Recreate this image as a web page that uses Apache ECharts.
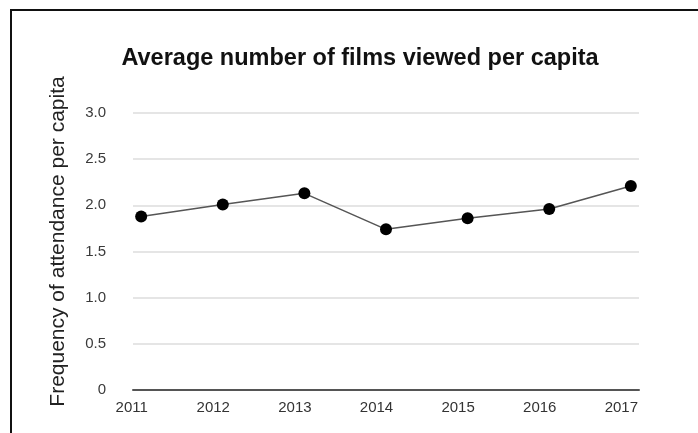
<!DOCTYPE html>
<html>
<head>
<meta charset="utf-8">
<script src="https://cdn.jsdelivr.net/npm/echarts@6/dist/echarts.min.js"></script>
<style>
  html, body { margin: 0; padding: 0; background: #fff; }
  #chart { width: 698px; height: 433px; }
</style>
</head>
<body>
<div id="chart"></div>
<script>
// Average films viewed per capita, by year
const years = [2011, 2012, 2013, 2014, 2015, 2016, 2017];
const filmsPerCapita = [1.88, 2.01, 2.13, 1.74, 1.86, 1.96, 2.21];
const yTicks = [0, 0.5, 1.0, 1.5, 2.0, 2.5, 3.0];

const titleText = 'Average number of films viewed per capita';
const yAxisTitle = 'Frequency of attendance per capita';

const FONT = '"Liberation Sans", Arial, Helvetica, sans-serif';

const chart = echarts.init(document.getElementById('chart'), null, { renderer: 'canvas' });

chart.setOption({
  backgroundColor: '#ffffff',
  animation: false,
  title: {
    text: titleText,
    left: 355,
    top: 42,
    textAlign: 'center',
    textStyle: { fontFamily: FONT, fontSize: 23.5, fontWeight: 'bold', color: '#111' }
  },
  graphic: [{
    type: 'rect',
    shape: { x: 11, y: 10, width: 800, height: 800 },
    style: { fill: 'none', stroke: '#111', lineWidth: 2 },
    silent: true
  }],
  grid: { left: 133, right: 59, top: 113, bottom: 43, containLabel: false },
  xAxis: {
    type: 'value',
    min: years[0] - 0.1,
    max: years[years.length - 1] + 0.1,
    axisLine: { show: true, lineStyle: { color: '#555', width: 2 } },
    axisTick: { show: false },
    splitLine: { show: false },
    axisLabel: {
      customValues: years,
      formatter: v => String(v),
      margin: 10,
      padding: [0, 19, 0, 0],
      fontFamily: FONT, fontSize: 15, color: '#333'
    }
  },
  yAxis: {
    type: 'value',
    min: yTicks[0],
    max: yTicks[yTicks.length - 1],
    interval: 0.5,
    name: yAxisTitle,
    nameLocation: 'middle',
    nameRotate: 90,
    nameGap: 64,
    nameTextStyle: { fontFamily: FONT, fontSize: 21, color: '#222', padding: [0, 0, 0, 20] },
    axisLine: { show: false },
    axisTick: { show: false },
    splitLine: { show: true, lineStyle: { color: '#dcdcdc', width: 1.5 } },
    axisLabel: {
      margin: 27,
      formatter: v => (v === 0 ? '0' : v.toFixed(1)),
      fontFamily: FONT, fontSize: 15, color: '#3a3a3a'
    }
  },
  series: [{
    type: 'line',
    data: years.map((y, i) => [y, filmsPerCapita[i]]),
    symbol: 'circle',
    symbolSize: 12,
    lineStyle: { color: '#555', width: 1.5 },
    itemStyle: { color: '#000' },
    z: 3
  }]
});
</script>
</body>
</html>
